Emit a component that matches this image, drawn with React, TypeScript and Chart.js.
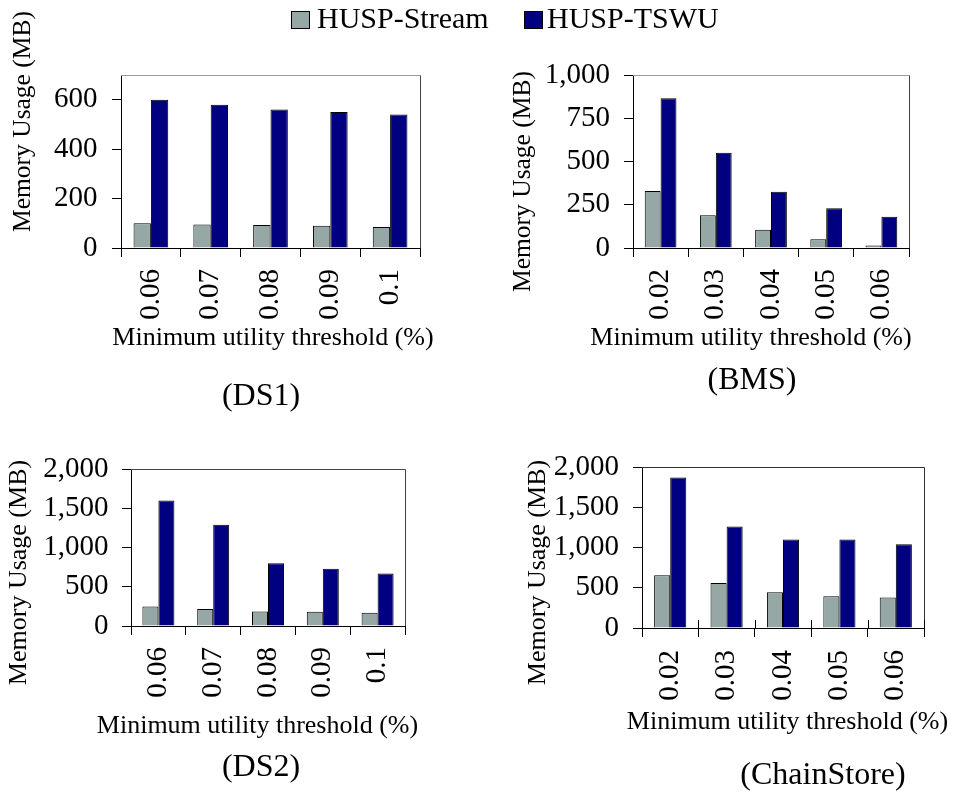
import React, { useEffect, useRef } from 'react';
import { Chart, registerables } from 'chart.js';

Chart.register(...registerables);

const SERIF = '"Liberation Serif", "Times New Roman", Times, serif';

// Series names and colours
const seriesNames = ['HUSP-Stream', 'HUSP-TSWU'];
const streamColor = '#96A8A6';
const tswuColor = '#000080';

// DS1
const ds1Thresholds = ['0.06', '0.07', '0.08', '0.09', '0.1'];
const ds1Stream = [100, 95, 93, 90, 85];
const ds1Tswu = [600, 580, 560, 550, 540];

// BMS
const bmsThresholds = ['0.02', '0.03', '0.04', '0.05', '0.06'];
const bmsStream = [330, 190, 105, 50, 15];
const bmsTswu = [865, 550, 325, 230, 180];

// DS2
const ds2Thresholds = ['0.06', '0.07', '0.08', '0.09', '0.1'];
const ds2Stream = [250, 215, 185, 180, 170];
const ds2Tswu = [1600, 1290, 800, 730, 670];

// ChainStore
const chainThresholds = ['0.02', '0.03', '0.04', '0.05', '0.06'];
const chainStream = [655, 560, 445, 395, 380];
const chainTswu = [1870, 1260, 1100, 1100, 1040];

// Y-axis tick values per panel
const ds1Ticks = [0, 200, 400, 600];
const bmsTicks = [0, 250, 500, 750, 1000];
const ds2Ticks = [0, 500, 1000, 1500, 2000];
const chainTicks = [0, 500, 1000, 1500, 2000];

const yTitle = 'Memory Usage (MB)';
const xTitle = 'Minimum utility threshold (%)';

type Caption = { text: string; x: number; y: number; size: number; rotate?: boolean };

type PanelSpec = {
  labels: string[];
  stream: number[];
  tswu: number[];
  yMax: number;
  yTicks: number[];
  box: [number, number, number, number];
  area: { l: number; t: number; r: number; b: number };
  xTickPad: number;
  yTickPad: number;
  barShare: number;
  topColor: string;
  rightColor: string;
  innerTick: number;
  captions: Caption[];
};

const panels: PanelSpec[] = [
  {
    labels: ds1Thresholds, stream: ds1Stream, tswu: ds1Tswu, yMax: 700, yTicks: ds1Ticks,
    box: [0, 0, 445, 420], area: { l: 121, t: 75, r: 420, b: 248 },
    xTickPad: 12, yTickPad: 14.5, barShare: 0.58, topColor: '#9a9a9a', rightColor: '#444', innerTick: 0,
    captions: [
      { text: yTitle, x: 30, y: 121.5, size: 25.5, rotate: true },
      { text: xTitle, x: 273, y: 345, size: 26 },
      { text: '(DS1)', x: 261, y: 404.5, size: 32 },
    ],
  },
  {
    labels: bmsThresholds, stream: bmsStream, tswu: bmsTswu, yMax: 1000, yTicks: bmsTicks,
    box: [490, 0, 954, 420], area: { l: 633, t: 75, r: 909, b: 248 },
    xTickPad: 12, yTickPad: 14, barShare: 0.575, topColor: '#9a9a9a', rightColor: '#444', innerTick: 0,
    captions: [
      { text: yTitle, x: 530, y: 181.5, size: 25.5, rotate: true },
      { text: xTitle, x: 751, y: 345, size: 26 },
      { text: '(BMS)', x: 752, y: 388.5, size: 32 },
    ],
  },
  {
    labels: ds2Thresholds, stream: ds2Stream, tswu: ds2Tswu, yMax: 2000, yTicks: ds2Ticks,
    box: [0, 425, 445, 793], area: { l: 131, t: 469, r: 405, b: 626 },
    xTickPad: 12, yTickPad: 13.5, barShare: 0.584, topColor: '#444', rightColor: '#444', innerTick: 0,
    captions: [
      { text: yTitle, x: 26, y: 572.5, size: 26, rotate: true },
      { text: xTitle, x: 257.5, y: 732.7, size: 26 },
      { text: '(DS2)', x: 261, y: 775.5, size: 32 },
    ],
  },
  {
    labels: chainThresholds, stream: chainStream, tswu: chainTswu, yMax: 2000, yTicks: chainTicks,
    box: [490, 425, 954, 793], area: { l: 642, t: 467, r: 924, b: 628 },
    xTickPad: 13, yTickPad: 14, barShare: 0.57, topColor: '#333', rightColor: '#333', innerTick: 8,
    captions: [
      { text: yTitle, x: 545, y: 572.5, size: 26, rotate: true },
      { text: xTitle, x: 787.5, y: 729.3, size: 26 },
      { text: '(ChainStore)', x: 823, y: 783.5, size: 32 },
    ],
  },
];

// Top/right frame of the plot area, plus optional tick marks crossing the x axis
function framePlugin(spec: PanelSpec) {
  return {
    id: 'frame',
    afterDraw(chart: any) {
      const { ctx, chartArea: a } = chart;
      ctx.save();
      ctx.lineWidth = 1;
      const top = Math.round(a.top) + 0.5;
      const right = Math.round(a.right) + 0.5;
      ctx.strokeStyle = spec.topColor;
      ctx.beginPath();
      ctx.moveTo(a.left, top);
      ctx.lineTo(right, top);
      ctx.stroke();
      ctx.strokeStyle = spec.rightColor;
      ctx.beginPath();
      ctx.moveTo(right, top);
      ctx.lineTo(right, a.bottom);
      ctx.stroke();
      if (spec.innerTick > 0) {
        const n = spec.labels.length;
        const w = (a.right - a.left) / n;
        ctx.strokeStyle = '#000';
        ctx.beginPath();
        for (let i = 0; i <= n; i++) {
          const x = Math.round(a.left + i * w) + 0.5;
          ctx.moveTo(x, a.bottom - spec.innerTick);
          ctx.lineTo(x, a.bottom);
        }
        ctx.stroke();
      }
      ctx.restore();
    },
  };
}

// Axis titles and the panel caption
function captionPlugin(spec: PanelSpec) {
  return {
    id: 'captions',
    afterDraw(chart: any) {
      const ctx = chart.ctx;
      const [x0, y0] = spec.box;
      for (const c of spec.captions) {
        ctx.save();
        ctx.font = `${c.size}px ${SERIF}`;
        ctx.fillStyle = '#000';
        ctx.textAlign = 'center';
        ctx.textBaseline = 'alphabetic';
        ctx.translate(c.x - x0, c.y - y0);
        if (c.rotate) ctx.rotate(-Math.PI / 2);
        ctx.fillText(c.text, 0, 0);
        ctx.restore();
      }
    },
  };
}

function Panel({ spec }: { spec: PanelSpec }) {
  const ref = useRef<HTMLCanvasElement>(null);
  const [x0, y0, x1, y1] = spec.box;

  useEffect(() => {
    const a = spec.area;
    const tickFont = { family: SERIF, size: 29 };
    const chart = new Chart(ref.current as HTMLCanvasElement, {
      type: 'bar',
      data: {
        labels: spec.labels,
        datasets: [
          { label: seriesNames[0], data: spec.stream, backgroundColor: streamColor, borderColor: '#000', borderWidth: 1 },
          { label: seriesNames[1], data: spec.tswu, backgroundColor: tswuColor, borderColor: '#000', borderWidth: 1 },
        ],
      },
      options: {
        responsive: false,
        animation: false,
        devicePixelRatio: 1,
        layout: { padding: { left: 0, top: a.t - y0, right: x1 - a.r, bottom: 0 } },
        datasets: { bar: { categoryPercentage: spec.barShare, barPercentage: 1 } },
        plugins: { legend: { display: false }, tooltip: { enabled: false }, title: { display: false } },
        scales: {
          x: {
            type: 'category',
            offset: true,
            grid: { display: true, drawOnChartArea: false, drawTicks: true, tickLength: 9, color: '#000', offset: true, lineWidth: 1 },
            border: { display: true, color: '#000', width: 1 },
            ticks: { color: '#000', font: tickFont, minRotation: 90, maxRotation: 90, autoSkip: false, padding: spec.xTickPad },
            afterFit: (s: any) => { s.height = y1 - a.b; },
          },
          y: {
            min: 0,
            max: spec.yMax,
            grid: { display: true, drawOnChartArea: false, drawTicks: true, tickLength: 9, color: '#000', lineWidth: 1 },
            border: { display: true, color: '#000', width: 1 },
            ticks: {
              color: '#000',
              font: tickFont,
              padding: spec.yTickPad,
              callback: (v: any) => Number(v).toLocaleString('en-US'),
            },
            afterBuildTicks: (s: any) => { s.ticks = spec.yTicks.map((value) => ({ value })); },
            afterFit: (s: any) => { s.width = a.l - x0; },
          },
        },
      } as any,
      plugins: [framePlugin(spec), captionPlugin(spec)],
    });
    return () => chart.destroy();
  }, [spec]);

  return (
    <canvas
      ref={ref}
      width={x1 - x0}
      height={y1 - y0}
      style={{ position: 'absolute', left: x0, top: y0, width: x1 - x0, height: y1 - y0 }}
    />
  );
}

function LegendItem({ color, text, boxX, textX }: { color: string; text: string; boxX: number; textX: number }) {
  return (
    <>
      <div style={{ position: 'absolute', left: boxX, top: 11, width: 17, height: 16, background: color, border: '1px solid #000' }} />
      <span style={{ position: 'absolute', left: textX, top: 3, font: `30px ${SERIF}`, lineHeight: '30px', whiteSpace: 'nowrap', color: '#000' }}>
        {text}
      </span>
    </>
  );
}

export default function App() {
  return (
    <div style={{ position: 'absolute', left: 0, top: 0, width: 954, height: 793, background: '#fff', overflow: 'hidden' }}>
      {panels.map((p, i) => (
        <Panel key={i} spec={p} />
      ))}
      <LegendItem color={streamColor} text={seriesNames[0]} boxX={291} textX={317} />
      <LegendItem color={tswuColor} text={seriesNames[1]} boxX={524} textX={547} />
    </div>
  );
}
